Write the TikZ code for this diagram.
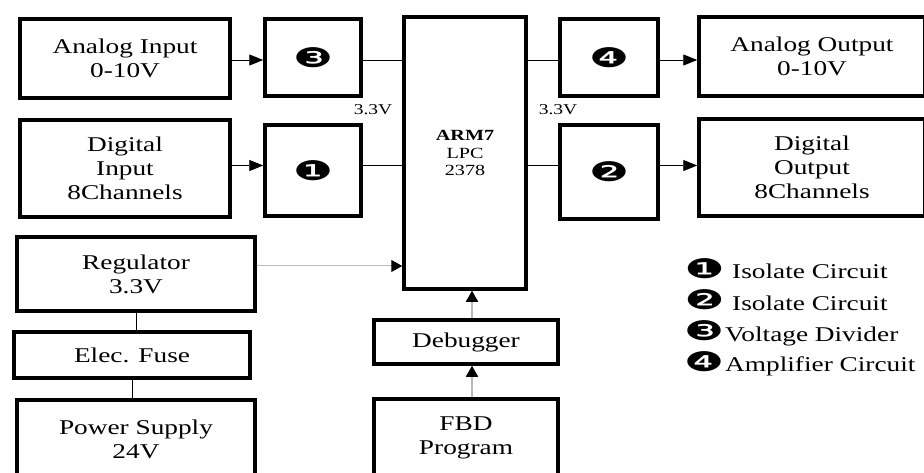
\documentclass[tikz,border=0pt]{standalone}
\usepackage{fontspec}
\setmainfont{Liberation Serif}[FakeStretch=1.3]
\newfontfamily\dingfont{DejaVu Sans}[FakeStretch=1.65]
\usetikzlibrary{arrows.meta}

\begin{document}
\begin{tikzpicture}[x=1pt, y=-1pt, >={Triangle[length=14pt, width=11pt]},
  blk/.style={draw, line width=3.5pt, inner sep=0pt, align=center, font=\fontsize{21}{24}\selectfont},
  num/.style={blk, font=\dingfont\fontsize{27}{30}\selectfont},
  wire/.style={line width=0.9pt},
  gwire/.style={line width=1.6pt, draw=gray!55, -{Triangle[length=11pt, width=12pt, color=black]}}]
\useasboundingbox (0,0) rectangle (924,473);
% Nodes
\node[blk, minimum width=210pt, minimum height=79pt] (ain) at (125,58.5) {Analog Input\\0-10V};
\node[num, minimum width=96pt, minimum height=77pt] (d3) at (313,57.5) {❸};
\node[blk, minimum width=210pt, minimum height=97pt] (din) at (125,168.5) {Digital\\Input\\8Channels};
\node[num, minimum width=96pt, minimum height=91pt] (d1) at (313,170.5) {❶};
\node[blk, minimum width=122pt, minimum height=272pt, font=\fontsize{15.5}{17.5}\selectfont] (arm) at (465,153) {\textbf{ARM7}\\LPC\\2378};
\node[num, minimum width=98pt, minimum height=77pt] (d4) at (609,57.5) {❹};
\node[num, minimum width=98pt, minimum height=94pt] (d2) at (609,172) {❷};
\node[blk, minimum width=226pt, minimum height=79pt] (aout) at (812,56.5) {Analog Output\\0-10V};
\node[blk, minimum width=226pt, minimum height=97pt] (dout) at (812,167.5) {Digital\\Output\\8Channels};
\node[blk, minimum width=238pt, minimum height=74pt] (reg) at (136,274) {Regulator\\3.3V};
\node[blk, minimum width=236pt, minimum height=46pt] (fuse) at (132,355) {Elec. Fuse};
\node[blk, minimum width=238pt, minimum height=78pt] (pwr) at (136,439) {Power Supply\\24V};
\node[blk, minimum width=184pt, minimum height=44pt] (dbg) at (466,342) {Debugger};
\node[blk, minimum width=184pt, minimum height=78pt] (fbd) at (466,438) {FBD\\Program};

% Voltage labels
\node[font=\fontsize{15}{17}\selectfont, inner sep=0pt] (vl) at (373,110) {3.3V};
\node[font=\fontsize{15}{17}\selectfont, inner sep=0pt] (vr) at (558,110) {3.3V};

% Legend
\node[inner sep=0pt, font=\dingfont\fontsize{27}{30}\selectfont] (k1) at (704.5,269) {❶};
\node[inner sep=0pt, font=\dingfont\fontsize{27}{30}\selectfont] (k2) at (704.5,300) {❷};
\node[inner sep=0pt, font=\dingfont\fontsize{27}{30}\selectfont] (k3) at (704,331) {❸};
\node[inner sep=0pt, font=\dingfont\fontsize{27}{30}\selectfont] (k4) at (704,362) {❹};
\node[inner sep=0pt, anchor=base west, font=\fontsize{21}{24}\selectfont] (t1) at (732,279) {Isolate Circuit};
\node[inner sep=0pt, anchor=base west, font=\fontsize{21}{24}\selectfont] (t2) at (732,310) {Isolate Circuit};
\node[inner sep=0pt, anchor=base west, font=\fontsize{21}{24}\selectfont] (t3) at (725,341) {Voltage Divider};
\node[inner sep=0pt, anchor=base west, font=\fontsize{21}{24}\selectfont] (t4) at (725,371) {Amplifier Circuit};

% Wire levels
\coordinate (r1) at (0,60);
\coordinate (r2) at (0,165.5);
\coordinate (r3) at (0,266);
\coordinate (c1) at (472,0);

% Arrows
\draw[wire, ->] (ain.east |- r1) -- (d3.west |- r1);
\draw[wire] (d3.east |- r1) -- (arm.west |- r1);
\draw[wire, ->] (din.east |- r2) -- (d1.west |- r2);
\draw[wire] (d1.east |- r2) -- (arm.west |- r2);
\draw[wire] (arm.east |- r1) -- (d4.west |- r1);
\draw[wire, ->] (d4.east |- r1) -- (aout.west |- r1);
\draw[wire] (arm.east |- r2) -- (d2.west |- r2);
\draw[wire, ->] (d2.east |- r2) -- (dout.west |- r2);
\draw[gwire, line width=1pt] (reg.east |- r3) -- (arm.west |- r3);
\draw[wire] (reg.south) -- (reg.south |- fuse.north);
\draw[wire] (fuse.south) -- (fuse.south |- pwr.north);
\draw[gwire] (dbg.north -| c1) -- (arm.south -| c1);
\draw[gwire] (fbd.north -| c1) -- (dbg.south -| c1);
\end{tikzpicture}
\end{document}
